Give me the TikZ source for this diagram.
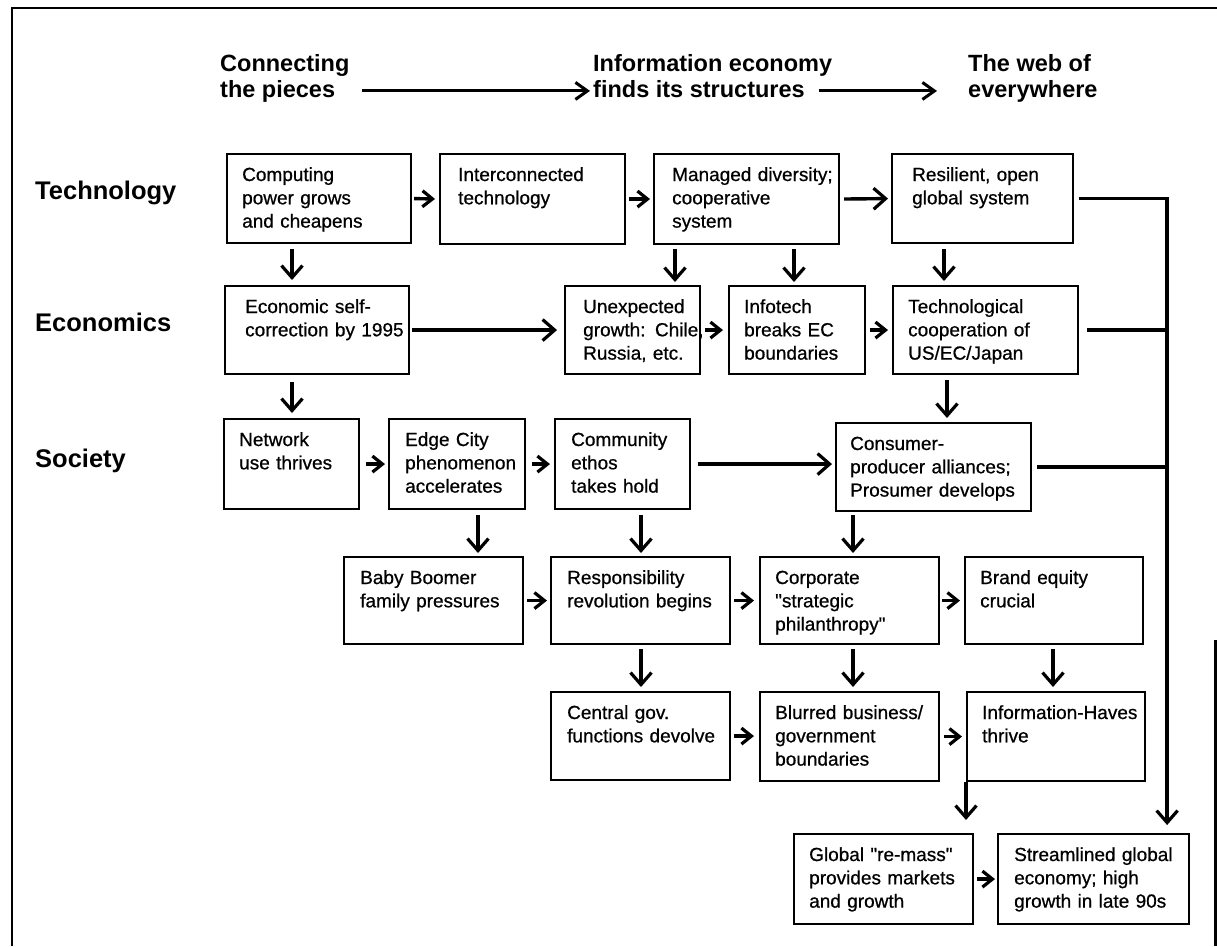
\documentclass[tikz,border=0pt]{standalone}
\usepackage{fontspec}
\setmainfont{Liberation Sans}[Ligatures=TeXOff]
\newfontfamily\boxfont{Liberation Sans}[Ligatures=TeXOff, FakeBold=0.7]
\usetikzlibrary{arrows.meta}
\tikzset{
  frame/.style={line width=2.6pt},
  box/.style={draw, line width=2.1pt, inner sep=0pt, anchor=north west},
  btxt/.style={inner sep=0pt, anchor=base west, align=left, text width=210pt,
    font=\boxfont\fontsize{19}{23.3}\selectfont},
  head/.style={inner sep=0pt, anchor=base west, font=\bfseries\fontsize{23.5}{26}\selectfont},
  rowlab/.style={inner sep=0pt, anchor=base west, font=\bfseries\fontsize{25.5}{28}\selectfont},
  arr/.style={line width=3.4pt, -{Straight Barb[length=10pt,width=16pt,line width=3.2pt]}},
  varr/.style={line width=3.4pt, -{Straight Barb[length=12pt,width=21pt,line width=3.2pt]}},
  harr/.style={line width=3pt, -{Straight Barb[length=12pt,width=17pt,line width=3pt]}},
  bus/.style={line width=3.6pt},
}
\newcommand{\flowbox}[7]{%
  \node[box, minimum width=#4pt, minimum height=#5pt] (#1) at (#2,#3) {};
  \node[btxt] (#1-t) at ([shift={(#6pt,-28pt)}]#1.north west) {#7};}
\begin{document}
\begin{tikzpicture}[x=1pt,y=-1pt]
\useasboundingbox (0,0) rectangle (1217,946);
% frame
\draw[frame] (12,946) -- (12,8) -- (1217,8);
\draw[frame] (1215.5,640) -- (1215.5,946);

% headings
\node[head] (h1a) at (220,71) {Connecting};
\node[head] (h1b) at (220,97) {the pieces};
\node[head] (h2a) at (593,71) {Information economy};
\node[head] (h2b) at (593,97) {finds its structures};
\node[head] (h3a) at (968,71) {The web of};
\node[head] (h3b) at (968,97) {everywhere};
\draw[harr, shorten <=27pt, shorten >=3pt] (h1b.east) -- (h1b.east -| h2b.west);
\draw[harr, shorten <=14pt, shorten >=31pt] (h2b.east |- h1b.east) -- (h1b.east -| h3b.west);

% row labels
\node[rowlab] (lt) at (35,199) {Technology};
\node[rowlab] (le) at (35,331) {Economics};
\node[rowlab] (ls) at (35,467) {Society};

% boxes
\flowbox{comp}{226}{153}{184}{89}{16}{Computing\\power grows\\and cheapens}
\flowbox{inter}{439}{153}{185}{90}{19}{Interconnected\\technology}
\flowbox{manag}{653}{153}{185}{90}{19}{Managed diversity;\\cooperative\\system}
\flowbox{resil}{891}{153}{181}{89}{21}{Resilient, open\\global system}
\flowbox{econ}{224}{285}{184}{88}{21}{Economic self-\\correction by 1995}
\flowbox{unexp}{564}{285}{135}{88}{19}{Unexpected\\growth: Chile,\\Russia, etc.}
\flowbox{infot}{728}{285}{136}{88}{16}{Infotech\\breaks EC\\boundaries}
\flowbox{techn}{892}{285}{185}{88}{16}{Technological\\cooperation of\\US/EC/Japan}
\flowbox{netw}{223}{418}{135}{90}{16}{Network\\use thrives}
\flowbox{edge}{388}{418}{136}{90}{17}{Edge City\\phenomenon\\accelerates}
\flowbox{comm}{554}{418}{135}{90}{17}{Community\\ethos\\takes hold}
\flowbox{cons}{835}{422}{195}{88}{15}{Consumer-\\producer alliances;\\Prosumer develops}
\flowbox{baby}{343}{556}{179}{87}{17}{Baby Boomer\\family pressures}
\flowbox{resp}{550}{556}{179}{87}{17}{Responsibility\\revolution begins}
\flowbox{corp}{759}{556}{179}{87}{16}{Corporate\\"strategic\\philanthropy"}
\flowbox{brand}{964}{556}{178}{87}{16}{Brand equity\\crucial}
\flowbox{centr}{550}{691}{179}{88}{17}{Central gov.\\functions devolve}
\flowbox{blur}{759}{691}{179}{89}{16}{Blurred business/\\government\\boundaries}
\flowbox{ih}{966}{691}{178}{89}{16}{Information-Haves\\thrive}
\flowbox{glob}{793}{833}{179}{90}{16}{Global "re-mass"\\provides markets\\and growth}
\flowbox{strm}{997}{833}{191}{90}{17}{Streamlined global\\economy; high\\growth in late 90s}

% row 1
\draw[arr, shorten <=2pt, shorten >=4pt] (comp.east) -- (inter.west);
\draw[arr, shorten <=3pt, shorten >=3pt] (inter.east) -- (manag.west);
\draw[varr, shorten <=4pt, shorten >=3pt] (manag.east) -- (resil.west);
\coordinate (busT) at ([xshift=93pt]resil.east);
\draw[bus, -{Straight Barb[length=12pt,width=21pt,line width=3.2pt]}, shorten <=5pt, shorten >=8pt]
  (resil.east) -- (busT) -- (busT |- strm.north);
% row 2
\draw[varr, shorten <=2pt, shorten >=7pt] (econ.east) -- (unexp.west);
\draw[arr, shorten <=4pt, shorten >=5pt] (unexp.east) -- (infot.west);
\draw[arr, shorten <=4pt, shorten >=4pt] (infot.east) -- (techn.west);
\draw[bus, shorten <=8pt] (techn.east) -- (techn.east -| busT);
% row 3
\draw[arr, shorten <=6pt, shorten >=3pt] (netw.east) -- (edge.west);
\draw[arr, shorten <=6pt, shorten >=4pt] (edge.east) -- (comm.west);
\draw[varr, shorten <=7pt, shorten >=3pt] (comm.east) -- (comm.east -| cons.west);
\draw[bus, shorten <=5pt] (cons.east) -- (cons.east -| busT);
% row 4
\draw[arr, shorten <=3pt, shorten >=3pt] (baby.east) -- (resp.west);
\draw[arr, shorten <=3pt, shorten >=5pt] (resp.east) -- (corp.west);
\draw[arr, shorten <=2pt, shorten >=4pt] (corp.east) -- (brand.west);
% row 5
\draw[arr, shorten <=3pt, shorten >=5pt] (centr.east) -- (centr.east -| blur.west);
\draw[arr, shorten <=4pt, shorten >=4pt] (blur.east) -- (ih.west);
% row 6
\draw[arr, shorten <=3pt, shorten >=2pt] (glob.east) -- (strm.west);

% vertical arrows
\draw[varr, shorten <=5pt, shorten >=5pt] ([xshift=66pt]comp.south west) -- ([xshift=68pt]econ.north west);
\draw[varr, shorten <=7pt, shorten >=5pt] ([xshift=68pt]econ.south west) -- ([xshift=69pt]netw.north west);
\draw[varr, shorten <=4pt, shorten >=3pt] ([xshift=22pt]manag.south west) -- ([xshift=111pt]unexp.north west);
\draw[varr, shorten <=4pt, shorten >=3pt] ([xshift=141pt]manag.south west) -- ([xshift=66pt]infot.north west);
\draw[varr, shorten <=5pt, shorten >=4pt] ([xshift=53pt]resil.south west) -- ([xshift=52pt]techn.north west);
\draw[varr, shorten <=5pt, shorten >=4pt] ([xshift=55pt]techn.south west) -- ([xshift=112pt]cons.north west);
\draw[varr, shorten <=5pt, shorten >=3pt] ([xshift=90pt]edge.south west) -- ([xshift=135pt]baby.north west);
\draw[varr, shorten <=5pt, shorten >=3pt] ([xshift=87pt]comm.south west) -- ([xshift=91pt]resp.north west);
\draw[varr, shorten <=3pt, shorten >=3pt] ([xshift=18pt]cons.south west) -- ([xshift=94pt]corp.north west);
\draw[varr, shorten <=4pt, shorten >=4pt] ([xshift=91pt]resp.south west) -- ([xshift=91pt]centr.north west);
\draw[varr, shorten <=4pt, shorten >=4pt] ([xshift=94pt]corp.south west) -- ([xshift=94pt]blur.north west);
\draw[varr, shorten <=4pt, shorten >=4pt] ([xshift=89pt]brand.south west) -- ([xshift=87pt]ih.north west);
\draw[varr, shorten >=13pt] (ih.south west) -- (ih.south west |- glob.north);
\end{tikzpicture}
\end{document}
